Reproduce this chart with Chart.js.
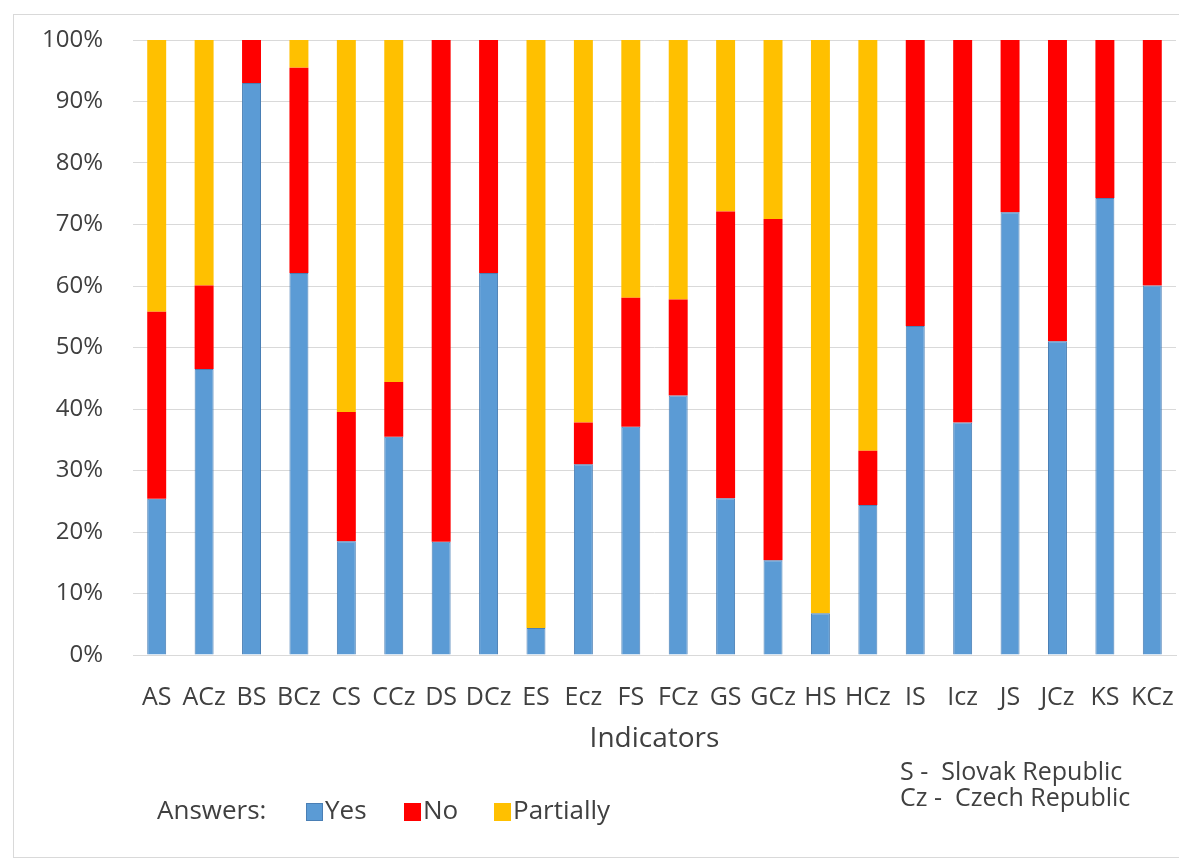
<!DOCTYPE html>
<html>
<head>
<meta charset="utf-8">
<title>Answers by indicator</title>
<script src="https://cdn.jsdelivr.net/npm/chart.js@4.4.1/dist/chart.umd.min.js"></script>
<style>
  html, body { margin: 0; padding: 0; background: #ffffff; }
  #wrap { width: 1179px; height: 859px; }
</style>
</head>
<body>
<div id="wrap"><canvas id="chart" width="1179" height="859"></canvas></div>
<script>
// Indicators (S = Slovak Republic, Cz = Czech Republic)
const categories = ['AS','ACz','BS','BCz','CS','CCz','DS','DCz','ES','Ecz','FS','FCz','GS','GCz','HS','HCz','IS','Icz','JS','JCz','KS','KCz'];

// Share of answers, percent
const yesValues       = [25.4, 46.5, 93.0, 62.1, 18.5, 35.5, 18.4, 62.1,  4.4, 31.0, 37.1, 42.2, 25.5, 15.4,  6.8, 24.4, 53.5, 37.8, 72.0, 51.0, 74.3, 60.1];
const noValues        = [30.4, 13.6,  7.0, 33.4, 21.0,  8.9, 81.6, 37.9,  0.0,  6.8, 21.0, 15.6, 46.6, 55.5,  0.0,  8.8, 46.5, 62.2, 28.0, 49.0, 25.7, 39.9];
const partiallyValues = [44.2, 39.9,  0.0,  4.5, 60.5, 55.6,  0.0,  0.0, 95.6, 62.2, 41.9, 42.2, 27.9, 29.1, 93.2, 66.8,  0.0,  0.0,  0.0,  0.0,  0.0,  0.0];

const yTicks = [0, 10, 20, 30, 40, 50, 60, 70, 80, 90, 100];
const legendTitle = 'Answers:';
const notes = ['S -  Slovak Republic', 'Cz -  Czech Republic'];

const FONT = "'Open Sans', 'Noto Sans', sans-serif";
const TEXT = '#404040';
const GRID = '#d9d9d9';

// White page with a thin frame around the chart
const framePlugin = {
  id: 'frame',
  beforeDraw(chart) {
    const ctx = chart.ctx;
    ctx.save();
    ctx.fillStyle = '#ffffff';
    ctx.fillRect(0, 0, chart.width, chart.height);
    ctx.strokeStyle = GRID;
    ctx.lineWidth = 1;
    ctx.strokeRect(13.5, 14.5, chart.width, chart.height - 16);
    ctx.restore();
  }
};

// "Answers:" legend row and the abbreviation notes
const legendPlugin = {
  id: 'answersLegend',
  afterDraw(chart) {
    const ctx = chart.ctx;
    ctx.save();
    ctx.textBaseline = 'middle';
    ctx.textAlign = 'left';
    ctx.fillStyle = TEXT;
    ctx.font = '26px ' + FONT;
    const rowY = 812;
    ctx.fillText(legendTitle, 157, rowY);

    const boxX = [306, 404, 494];
    chart.data.datasets.forEach((ds, i) => {
      const x = boxX[i];
      ctx.fillStyle = ds.backgroundColor;
      ctx.fillRect(x, rowY - 9, 17, 18);
      if (ds.borderWidth) {
        ctx.strokeStyle = ds.borderColor;
        ctx.lineWidth = 1;
        ctx.strokeRect(x + 0.5, rowY - 8.5, 16, 17);
      }
      ctx.fillStyle = TEXT;
      ctx.fillText(ds.label, x + 19, rowY);
    });

    ctx.font = '25px ' + FONT;
    ctx.fillText(notes[0], 900, 773);
    ctx.fillText(notes[1], 900, 799);
    ctx.restore();
  }
};

new Chart(document.getElementById('chart'), {
  type: 'bar',
  data: {
    labels: categories,
    datasets: [
      { label: 'Yes', data: yesValues, backgroundColor: '#5b9bd5', borderColor: '#4a7fb5', borderWidth: 1 },
      { label: 'No', data: noValues, backgroundColor: '#ff0000', borderWidth: 0 },
      { label: 'Partially', data: partiallyValues, backgroundColor: '#ffc000', borderWidth: 0 }
    ]
  },
  options: {
    responsive: false,
    animation: false,
    layout: { padding: { top: 40, right: 3, left: 0, bottom: 0 } },
    datasets: { bar: { categoryPercentage: 0.8, barPercentage: 0.5 } },
    plugins: {
      legend: { display: false },
      tooltip: { enabled: false },
      title: { display: false }
    },
    scales: {
      x: {
        stacked: true,
        grid: { display: false, drawTicks: false },
        border: { display: true, color: GRID, width: 1 },
        ticks: { font: { family: FONT, size: 25 }, color: TEXT, padding: 28, autoSkip: false, maxRotation: 0 },
        title: {
          display: true,
          text: 'Indicators',
          font: { family: FONT, size: 28 },
          color: TEXT,
          padding: { top: 0, bottom: 103 }
        },
        afterFit(scale) {
          scale.height = 204;
          scale.paddingLeft = 0;
          scale.paddingRight = 0;
        }
      },
      y: {
        stacked: true,
        min: 0,
        max: 100,
        grid: { color: GRID, drawTicks: false, lineWidth: 1 },
        border: { display: false },
        afterBuildTicks(scale) { scale.ticks = yTicks.map(v => ({ value: v })); },
        ticks: {
          font: { family: FONT, size: 24 },
          color: TEXT,
          padding: 30,
          callback: v => v + '%'
        },
        afterFit(scale) {
          scale.width = 133;
          scale.paddingTop = 0;
          scale.paddingBottom = 0;
        }
      }
    }
  },
  plugins: [framePlugin, legendPlugin]
});
</script>
</body>
</html>
